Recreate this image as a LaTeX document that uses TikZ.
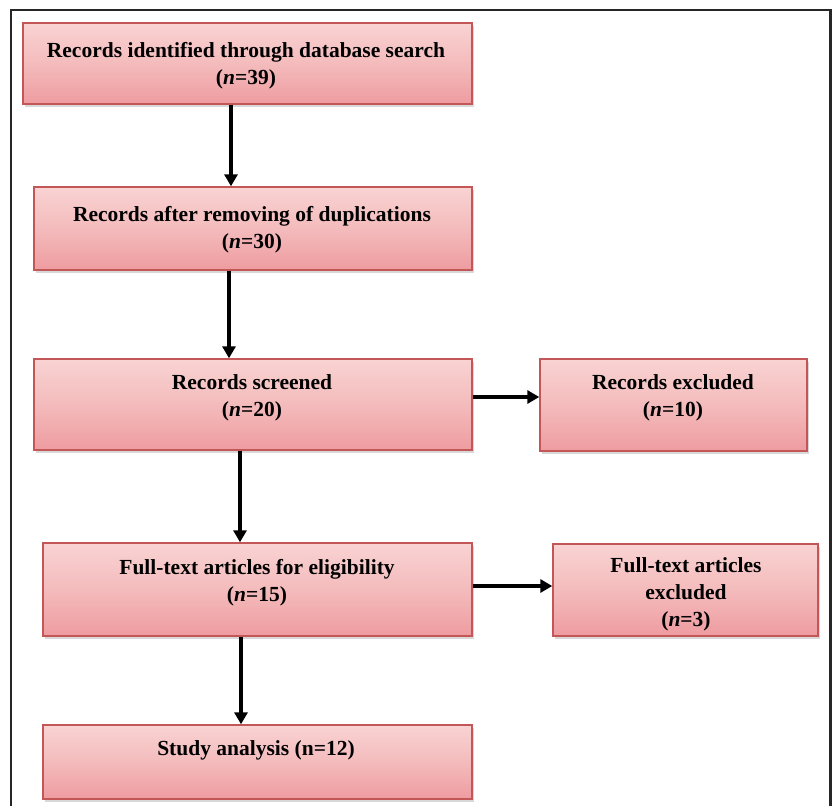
\documentclass[tikz,border=0pt]{standalone}
\usepackage{fontspec}
\setmainfont{Liberation Serif}
\usetikzlibrary{arrows.meta,shadows}
\definecolor{boxtop}{HTML}{F9D3D3}
\definecolor{boxmid}{HTML}{F4BBBC}
\definecolor{boxbot}{HTML}{EE9CA0}
\definecolor{boxline}{HTML}{C35757}
\tikzset{
  flowbox/.style={draw=boxline, line width=1.4pt, rectangle,
    top color=boxtop, bottom color=boxbot, middle color=boxmid,
    drop shadow={opacity=0.3, shadow xshift=1.5pt, shadow yshift=-2.5pt},
    inner sep=0pt},
  boxtext/.style={align=center, font=\fontsize{21.5}{27}\selectfont\bfseries, inner sep=0pt},
  flowarrow/.style={line width=4pt, -{Triangle[length=12pt,width=13pt]}},
}
\begin{document}
\begin{tikzpicture}[x=1pt,y=-1pt]
\useasboundingbox (0,0) rectangle (835,806);
\fill[white] (0,0) rectangle (835,806);
\draw[line width=2.4pt, black!85] (11,806) -- (11,10) -- (830.5,10) -- (830.5,806);

% boxes
\node[flowbox, minimum width=449pt, minimum height=81pt] (b1) at (247.5,63.5) {};
\node[flowbox, minimum width=438pt, minimum height=83pt] (b2) at (253,228.5) {};
\node[flowbox, minimum width=438pt, minimum height=91pt] (b3) at (253,404.5) {};
\node[flowbox, minimum width=267pt, minimum height=92pt] (b3r) at (673.5,405) {};
\node[flowbox, minimum width=429pt, minimum height=93pt] (b4) at (257.5,589.5) {};
\node[flowbox, minimum width=265pt, minimum height=92pt] (b4r) at (685.5,590) {};
\node[flowbox, minimum width=429pt, minimum height=74pt] (b5) at (257.5,762) {};

% texts
\node[boxtext] (t1) at (246,66) {Records identified through database search\\(\textit{n}=39)};
\node[boxtext] (t2) at (252,230) {Records after removing of duplications\\(\textit{n}=30)};
\node[boxtext] (t3) at (252,397.5) {Records screened\\(\textit{n}=20)};
\node[boxtext] (t3r) at (673,397.5) {Records excluded\\(\textit{n}=10)};
\node[boxtext] (t4) at (257,582.5) {Full-text articles for eligibility\\(\textit{n}=15)};
\node[boxtext] (t4r) at (686,594) {Full-text articles\\excluded\\(\textit{n}=3)};
\node[boxtext] (t5) at (256,750) {Study analysis (n=12)};

% arrow coordinates
\coordinate (a1) at (231,0);
\coordinate (a2) at (229,0);
\coordinate (a3) at (240,0);
\coordinate (a4) at (241,0);
\coordinate (h1) at (0,397);
\coordinate (h2) at (0,586);

\draw[flowarrow] (b1.south -| a1) -- (b2.north -| a1);
\draw[flowarrow] (b2.south -| a2) -- (b3.north -| a2);
\draw[flowarrow] (b3.south -| a3) -- (b4.north -| a3);
\draw[flowarrow] (b4.south -| a4) -- (b5.north -| a4);
\draw[flowarrow] (b3.east |- h1) -- (b3r.west |- h1);
\draw[flowarrow] (b4.east |- h2) -- (b4r.west |- h2);
\end{tikzpicture}
\end{document}
